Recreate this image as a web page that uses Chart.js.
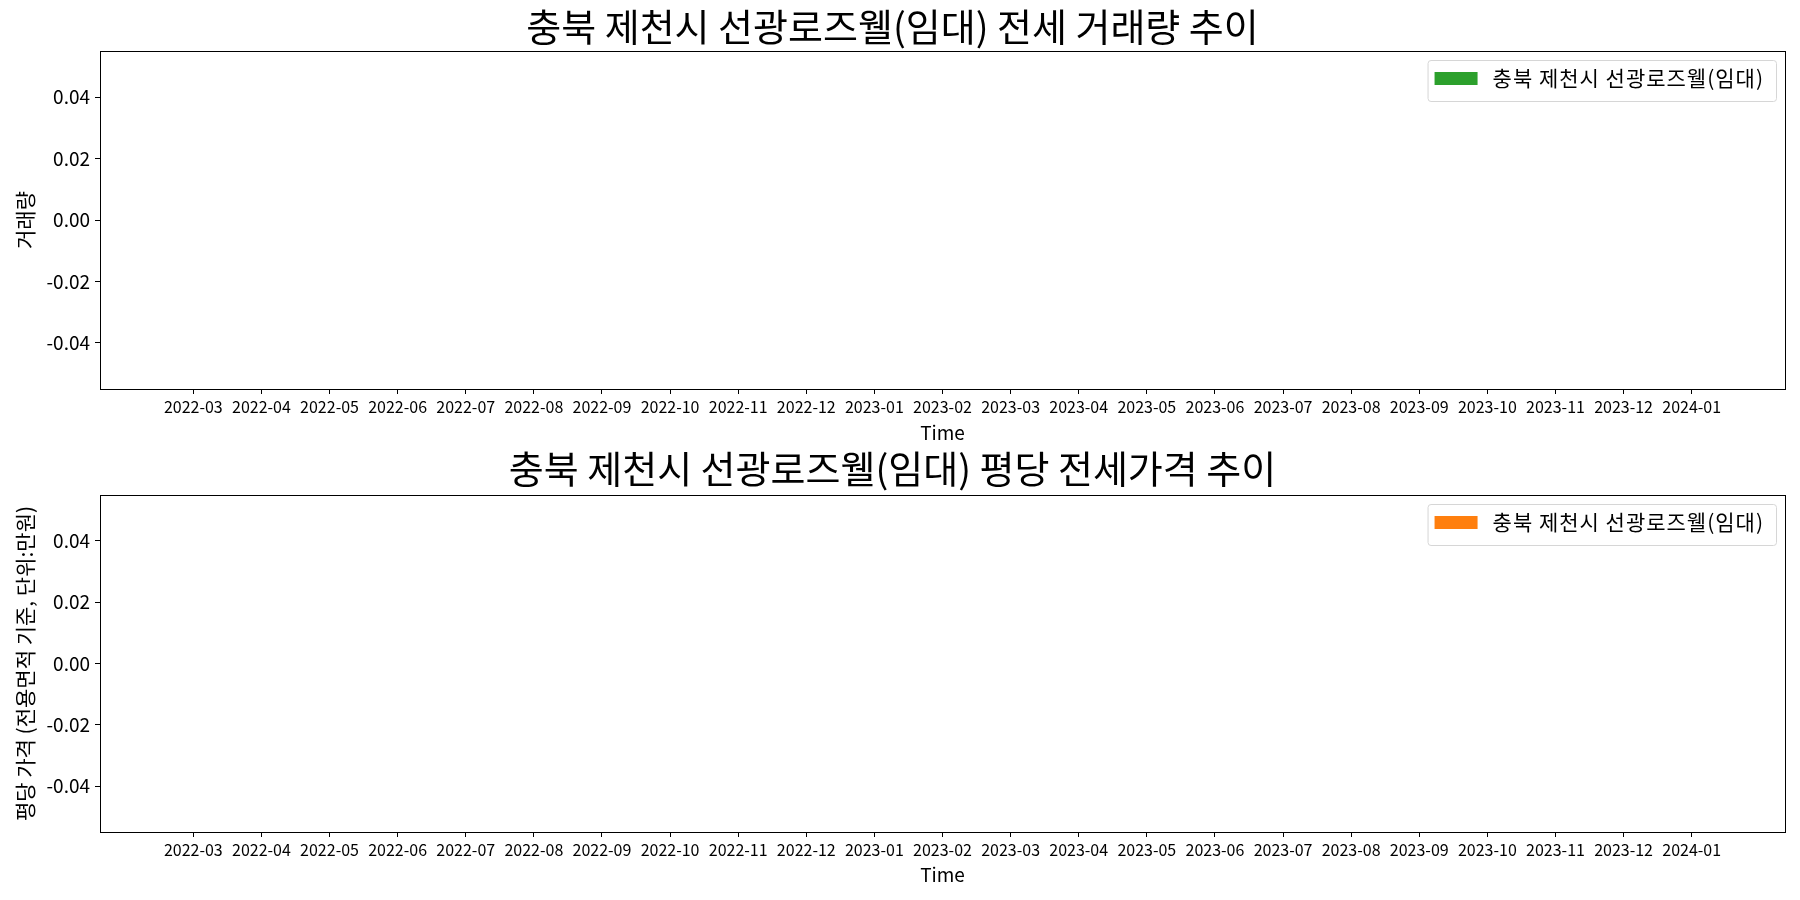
<!DOCTYPE html>
<html>
<head>
<meta charset="utf-8">
<script src="https://cdn.jsdelivr.net/npm/chart.js@4.4.0/dist/chart.umd.min.js"></script>
<style>
	body { margin: 0; background: #fff; }
	canvas { display: block; }
</style>
</head>
<body>
<canvas id="volume-chart" width="1800" height="450"></canvas>
<canvas id="price-chart" width="1800" height="450"></canvas>
<script>
const months = ['2022-03', '2022-04', '2022-05', '2022-06', '2022-07', '2022-08', '2022-09', '2022-10',
	'2022-11', '2022-12', '2023-01', '2023-02', '2023-03', '2023-04', '2023-05', '2023-06', '2023-07',
	'2023-08', '2023-09', '2023-10', '2023-11', '2023-12', '2024-01'];
const volumeValues = [0, 0, 0, 0, 0, 0, 0, 0, 0, 0, 0, 0, 0, 0, 0, 0, 0, 0, 0, 0, 0, 0, 0];
const priceValues = [0, 0, 0, 0, 0, 0, 0, 0, 0, 0, 0, 0, 0, 0, 0, 0, 0, 0, 0, 0, 0, 0, 0];
const yTicks = [-0.04, -0.02, 0.00, 0.02, 0.04];
const seriesName = '충북 제천시 선광로즈웰(임대)';

const FONT = "'Noto Sans CJK KR', 'Noto Sans', sans-serif";

// axes frame and an in-axes legend box, matplotlib style
const framePlugin = {
	id: 'frame',
	afterDraw(chart) {
		const a = chart.chartArea;
		const ctx = chart.ctx;
		ctx.save();
		ctx.strokeStyle = '#000';
		ctx.lineWidth = 1;
		ctx.strokeRect(Math.round(a.left) + 0.5, Math.round(a.top) + 0.5, Math.round(a.right - a.left), Math.round(a.bottom - a.top));

		const ds = chart.data.datasets[0];
		ctx.font = '21px ' + FONT;
		ctx.letterSpacing = '1px';
		const tw = ctx.measureText(ds.label).width;
		const x1 = a.right - 9, y0 = a.top + 9, y1 = a.top + 50;
		const textX = x1 - 12 - tw;
		const patchX = textX - 15 - 43;
		const x0 = patchX - 7;
		ctx.beginPath();
		ctx.roundRect(x0 + 0.5, y0 + 0.5, x1 - x0, y1 - y0, 3);
		ctx.fillStyle = 'rgba(255,255,255,0.8)';
		ctx.fill();
		ctx.strokeStyle = '#d6d6d6';
		ctx.stroke();
		ctx.fillStyle = ds.backgroundColor;
		ctx.fillRect(patchX, a.top + 21, 43, 13);
		ctx.fillStyle = '#000';
		ctx.textBaseline = 'middle';
		ctx.fillText(ds.label, textX, a.top + 27);
		ctx.restore();
	}
};

function makeChart(id, opts) {
	return new Chart(document.getElementById(id), {
		type: 'bar',
		data: {
			datasets: [{
				label: seriesName,
				data: opts.values.map((v, i) => ({x: i, y: v})),
				backgroundColor: opts.color,
				borderWidth: 0
			}]
		},
		plugins: [framePlugin],
		options: {
			responsive: false,
			animation: false,
			layout: {padding: {left: 0, right: 15, top: 0, bottom: 0}},
			plugins: {
				title: {
					display: true,
					text: opts.title,
					color: '#000',
					font: {family: FONT, size: 38, weight: 'normal', lineHeight: 1},
					padding: opts.titlePad
				},
				legend: {display: false},
				tooltip: {enabled: false}
			},
			scales: {
				x: {
					type: 'linear',
					offset: false,
					min: -1.37,
					max: months.length - 1 + 1.37,
					afterBuildTicks: (scale) => { scale.ticks = months.map((m, i) => ({value: i})); },
					afterFit: (scale) => { scale.height = opts.xHeight; },
					grid: {display: true, offset: false, drawOnChartArea: false, drawTicks: true, tickLength: 5, color: '#000'},
					border: {display: true, color: '#000'},
					ticks: {
						autoSkip: false,
						maxRotation: 0,
						padding: 3,
						color: '#000',
						font: {family: FONT, size: 16},
						callback: (v) => months[v] || ''
					},
					title: {
						display: true,
						text: 'Time',
						color: '#000',
						font: {family: FONT, size: 19},
						padding: {top: 0, bottom: opts.xTitleBottom}
					}
				},
				y: {
					min: -0.055,
					max: 0.055,
					afterBuildTicks: (scale) => { scale.ticks = yTicks.map(v => ({value: v})); },
					afterFit: (scale) => { scale.width = 100; },
					grid: {display: true, drawOnChartArea: false, drawTicks: true, tickLength: 5, color: '#000'},
					border: {display: true, color: '#000'},
					ticks: {
						padding: 5,
						color: '#000',
						font: {family: FONT, size: 19},
						callback: (v) => v.toFixed(2)
					},
					title: {
						display: true,
						text: opts.yTitle,
						color: '#000',
						font: {family: FONT, size: 21},
						padding: {top: 12, bottom: 0}
					}
				}
			}
		}
	});
}

makeChart('volume-chart', {
	values: volumeValues,
	color: '#2ca02c',
	title: '충북 제천시 선광로즈웰(임대) 전세 거래량 추이',
	yTitle: '거래량',
	titlePad: {top: 8, bottom: 5},
	xHeight: 61,
	xTitleBottom: 6
});

makeChart('price-chart', {
	values: priceValues,
	color: '#ff7f0e',
	title: '충북 제천시 선광로즈웰(임대) 평당 전세가격 추이',
	yTitle: '평당 가격 (전용면적 기준, 단위:만원)',
	titlePad: {top: 0, bottom: 7},
	xHeight: 68,
	xTitleBottom: 14
});
</script>
</body>
</html>
